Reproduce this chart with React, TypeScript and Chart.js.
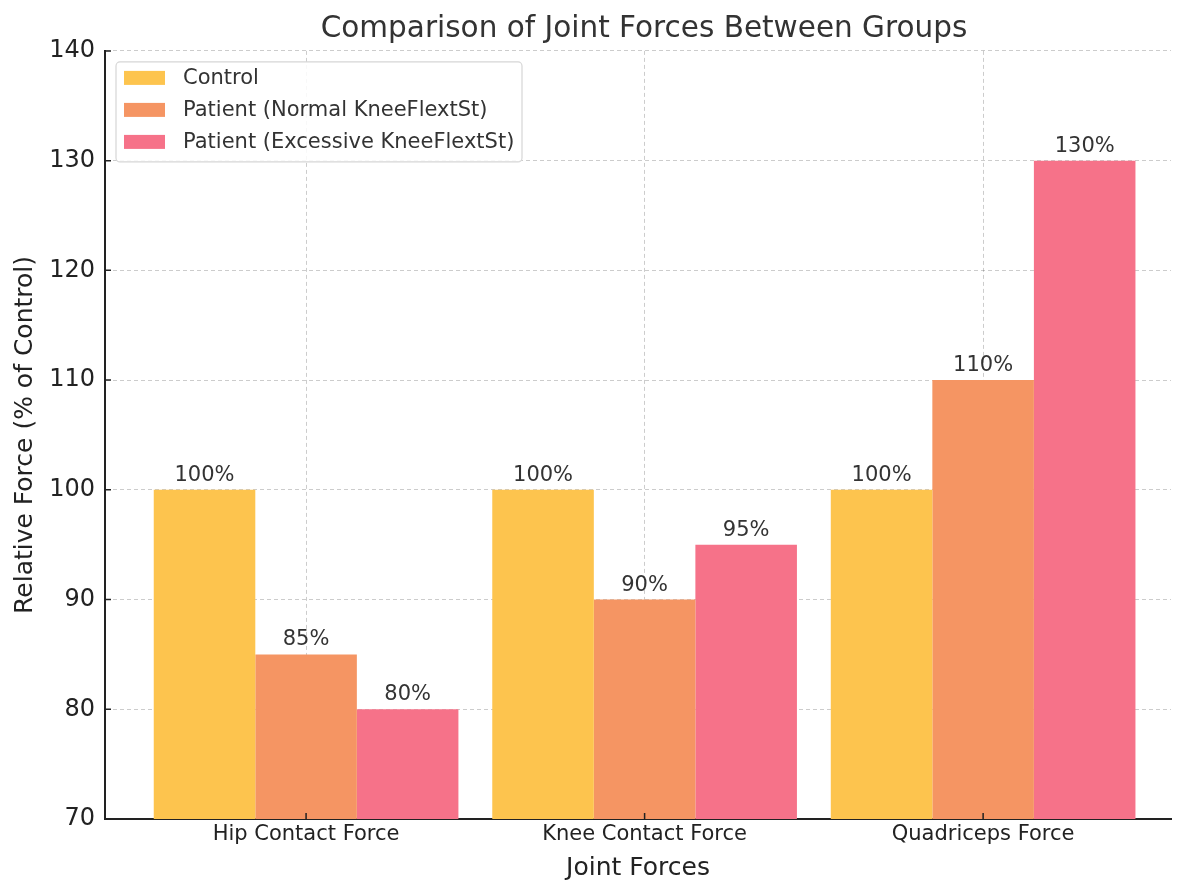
import { useEffect, useRef } from "react";
import { Chart, registerables } from "chart.js";

Chart.register(...registerables);

const categories = ["Hip Contact Force", "Knee Contact Force", "Quadriceps Force"];
const groupLabels = ["Control", "Patient (Normal KneeFlextSt)", "Patient (Excessive KneeFlextSt)"];
const controlValues = [100, 100, 100];
const normalValues = [85, 90, 110];
const excessiveValues = [80, 95, 130];
const yTicks = [70, 80, 90, 100, 110, 120, 130, 140];
const chartTitle = "Comparison of Joint Forces Between Groups";

const colors = ["rgb(253, 196, 78)", "rgb(245, 149, 99)", "rgb(246, 114, 137)"];
const FONT = "'DejaVu Sans', sans-serif";

// inward tick marks, like the matplotlib style
const innerTicks = {
  id: "innerTicks",
  afterDraw(chart: Chart) {
    const { ctx, chartArea, scales } = chart;
    ctx.save();
    ctx.strokeStyle = "#222";
    ctx.lineWidth = 1.5;
    ctx.beginPath();
    for (const v of yTicks) {
      const y = scales.y.getPixelForValue(v);
      ctx.moveTo(chartArea.left, y);
      ctx.lineTo(chartArea.left + 6, y);
    }
    categories.forEach((_, i) => {
      const x = scales.x.getPixelForValue(i);
      ctx.moveTo(x, chartArea.bottom);
      ctx.lineTo(x, chartArea.bottom - 6);
    });
    ctx.stroke();
    ctx.restore();
  },
};

// title centred over the plot area (matplotlib style), not the whole canvas
const plotTitle = {
  id: "plotTitle",
  afterDraw(chart: Chart) {
    const { ctx, chartArea } = chart;
    ctx.save();
    ctx.font = `29.5px ${FONT}`;
    ctx.fillStyle = "#333";
    ctx.textAlign = "center";
    ctx.textBaseline = "middle";
    ctx.fillText(chartTitle, (chartArea.left + chartArea.right) / 2 + 6, 29);
    ctx.restore();
  },
};

const valueLabels = {
  id: "valueLabels",
  afterDatasetsDraw(chart: Chart) {
    const { ctx } = chart;
    ctx.save();
    ctx.font = `21px ${FONT}`;
    ctx.fillStyle = "#333";
    ctx.textAlign = "center";
    ctx.textBaseline = "alphabetic";
    chart.data.datasets.forEach((ds, di) => {
      const meta = chart.getDatasetMeta(di);
      meta.data.forEach((bar: any, i) => {
        const v = (ds.data[i] as any).y;
        ctx.fillText(`${v}%`, bar.x, bar.y - 9);
      });
    });
    ctx.restore();
  },
};

const insideLegend = {
  id: "insideLegend",
  afterDraw(chart: Chart) {
    const { ctx, chartArea } = chart;
    const x0 = chartArea.left + 11;
    const y0 = chartArea.top + 11;
    const w = 406;
    const h = 100;
    ctx.save();
    ctx.beginPath();
    ctx.roundRect(x0, y0, w, h, 4);
    ctx.fillStyle = "rgba(255,255,255,0.85)";
    ctx.fill();
    ctx.strokeStyle = "#d6d6d6";
    ctx.lineWidth = 1.2;
    ctx.stroke();
    ctx.font = `21px ${FONT}`;
    ctx.textBaseline = "middle";
    ctx.textAlign = "left";
    groupLabels.forEach((label, i) => {
      const cy = y0 + 16 + i * 32;
      ctx.fillStyle = colors[i];
      ctx.fillRect(x0 + 8, cy - 7, 41, 14);
      ctx.fillStyle = "#333";
      ctx.fillText(label, x0 + 67, cy + 1);
    });
    ctx.restore();
  },
};

export default function App() {
  const chartRef = useRef<HTMLCanvasElement | null>(null);

  useEffect(() => {
    const canvas = chartRef.current;
    if (!canvas) return;
    document.body.style.margin = "0";

    const series = [controlValues, normalValues, excessiveValues];
    const chart = new Chart(canvas, {
      type: "bar",
      data: {
        datasets: series.map((vals, di) => ({
          label: groupLabels[di],
          data: vals.map((v, i) => ({ x: i, y: v })),
          backgroundColor: colors[di],
          categoryPercentage: 0.9,
          barPercentage: 1.0,
          borderWidth: 0,
        })),
      },
      options: {
        animation: false,
        responsive: false,
        devicePixelRatio: 1,
        layout: { padding: { left: 0, right: 29, top: 0, bottom: 0 } },
        plugins: {
          legend: { display: false },
          tooltip: { enabled: false },
          // keeps the space at the top; the text itself is drawn by plotTitle
          title: {
            display: true,
            text: chartTitle,
            color: "rgba(0,0,0,0)",
            font: { family: FONT, size: 29.5, weight: "normal" },
            padding: { top: 10, bottom: 5.5 },
          },
        },
        scales: {
          x: {
            type: "linear",
            offset: false,
            min: -0.594,
            max: 2.555,
            z: 1,
            afterBuildTicks: (scale: any) => {
              scale.ticks = categories.map((_, i) => ({ value: i }));
            },
            afterFit: (scale: any) => {
              scale.height = 77;
            },
            ticks: {
              color: "#222",
              font: { family: FONT, size: 21 },
              padding: 3,
              maxRotation: 0,
              autoSkip: false,
              callback: (v: any) => categories[v] ?? "",
            },
            grid: {
              offset: false,
              color: "rgba(0,0,0,0.2)",
              lineWidth: 1,
              drawTicks: false,
            },
            border: { display: true, color: "#222", width: 2, dash: [4, 3] },
            title: {
              display: true,
              text: "Joint Forces",
              color: "#222",
              font: { family: FONT, size: 25 },
              padding: { top: 4, bottom: 13 },
            },
          },
          y: {
            min: 70,
            max: 140,
            z: 1,
            afterBuildTicks: (scale: any) => {
              scale.ticks = yTicks.map((v) => ({ value: v }));
            },
            afterFit: (scale: any) => {
              scale.width = 105;
            },
            ticks: {
              color: "#222",
              font: { family: FONT, size: 24 },
              padding: 10,
            },
            grid: {
              color: "rgba(0,0,0,0.2)",
              lineWidth: 1,
              drawTicks: false,
            },
            border: { display: true, color: "#222", width: 2, dash: [4, 3] },
            title: {
              display: true,
              text: "Relative Force (% of Control)",
              color: "#222",
              font: { family: FONT, size: 25 },
              padding: { top: 10, bottom: 4 },
            },
          },
        },
      },
      plugins: [valueLabels, innerTicks, insideLegend, plotTitle],
    });

    return () => {
      chart.destroy();
    };
  }, []);

  return (
    <div style={{ position: "absolute", left: 0, top: 0, width: 1200, height: 896 }}>
      <canvas ref={chartRef} width={1200} height={896} />
    </div>
  );
}
